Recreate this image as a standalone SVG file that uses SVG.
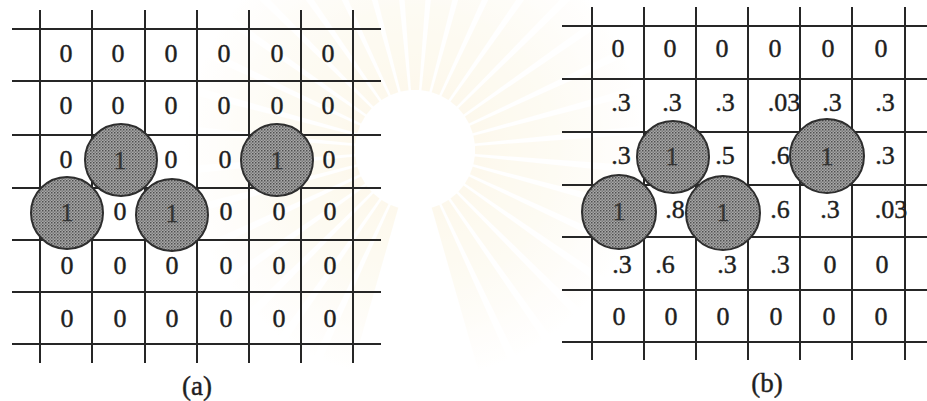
<svg xmlns="http://www.w3.org/2000/svg" xmlns:xlink="http://www.w3.org/1999/xlink" width="927" height="401" viewBox="0 0 927 401">
<style>
.grid{fill:none;stroke:#262626;stroke-width:2}
.cell{font-family:"Liberation Serif","Times New Roman",serif;font-size:26px;fill:#1e1e1e;stroke:#1e1e1e;stroke-width:0.4;text-anchor:middle}
.cap{font-family:"Liberation Serif","Times New Roman",serif;font-size:27px;fill:#1e1e1e;stroke:#1e1e1e;stroke-width:0.4;text-anchor:middle}
.disk{fill:url(#dots);stroke:#2e2e2e;stroke-width:2}
.one{font-family:"Liberation Serif","Times New Roman",serif;font-size:26px;fill:#333;stroke:#333;stroke-width:0.3;text-anchor:middle}
</style>
<defs>
<pattern id="dots" width="3" height="3" patternUnits="userSpaceOnUse">
<rect width="3" height="3" fill="#a8a8a8"/>
<rect width="1.5" height="1.5" fill="#505050"/>
<rect x="1.5" y="1.5" width="1.5" height="1.5" fill="#7a7a7a"/>
</pattern>
<radialGradient id="glow" cx="0" cy="0" r="230" gradientUnits="userSpaceOnUse">
<stop offset="0" stop-color="#fbf1d6"/>
<stop offset="0.6" stop-color="#fdf8ea"/>
<stop offset="1" stop-color="#ffffff"/>
</radialGradient>
<path id="ray" d="M60,-4 L230,-16 L230,16 L60,4 Z" fill="url(#glow)"/>
</defs>
<rect width="927" height="401" fill="#ffffff"/>
<g id="watermark" opacity="0.55">
<use xlink:href="#ray" transform="translate(415,150) rotate(0)"/>
<use xlink:href="#ray" transform="translate(415,150) rotate(10)"/>
<use xlink:href="#ray" transform="translate(415,150) rotate(20)"/>
<use xlink:href="#ray" transform="translate(415,150) rotate(30)"/>
<use xlink:href="#ray" transform="translate(415,150) rotate(40)"/>
<use xlink:href="#ray" transform="translate(415,150) rotate(50)"/>
<use xlink:href="#ray" transform="translate(415,150) rotate(60)"/>
<use xlink:href="#ray" transform="translate(415,150) rotate(70)"/>
<use xlink:href="#ray" transform="translate(415,150) rotate(110)"/>
<use xlink:href="#ray" transform="translate(415,150) rotate(120)"/>
<use xlink:href="#ray" transform="translate(415,150) rotate(130)"/>
<use xlink:href="#ray" transform="translate(415,150) rotate(140)"/>
<use xlink:href="#ray" transform="translate(415,150) rotate(150)"/>
<use xlink:href="#ray" transform="translate(415,150) rotate(160)"/>
<use xlink:href="#ray" transform="translate(415,150) rotate(170)"/>
<use xlink:href="#ray" transform="translate(415,150) rotate(180)"/>
<use xlink:href="#ray" transform="translate(415,150) rotate(190)"/>
<use xlink:href="#ray" transform="translate(415,150) rotate(200)"/>
<use xlink:href="#ray" transform="translate(415,150) rotate(210)"/>
<use xlink:href="#ray" transform="translate(415,150) rotate(220)"/>
<use xlink:href="#ray" transform="translate(415,150) rotate(230)"/>
<use xlink:href="#ray" transform="translate(415,150) rotate(240)"/>
<use xlink:href="#ray" transform="translate(415,150) rotate(250)"/>
<use xlink:href="#ray" transform="translate(415,150) rotate(260)"/>
<use xlink:href="#ray" transform="translate(415,150) rotate(270)"/>
<use xlink:href="#ray" transform="translate(415,150) rotate(280)"/>
<use xlink:href="#ray" transform="translate(415,150) rotate(290)"/>
<use xlink:href="#ray" transform="translate(415,150) rotate(300)"/>
<use xlink:href="#ray" transform="translate(415,150) rotate(310)"/>
<use xlink:href="#ray" transform="translate(415,150) rotate(320)"/>
<use xlink:href="#ray" transform="translate(415,150) rotate(330)"/>
<use xlink:href="#ray" transform="translate(415,150) rotate(340)"/>
<use xlink:href="#ray" transform="translate(415,150) rotate(350)"/>
</g>

<g id="grid-a">
<path class="grid" d="M40 10V363 M92 10V363 M145 10V363 M197 10V363 M249 10V363 M301 10V363 M353 10V363 M12 29H381 M12 81H381 M12 135H381 M12 188H381 M12 240H381 M12 292H381 M12 344H381"/>
<g id="values-a">
<text class="cell" x="66" y="62">0</text><text class="cell" x="118" y="62">0</text><text class="cell" x="171" y="62">0</text><text class="cell" x="224" y="62">0</text><text class="cell" x="277" y="62">0</text><text class="cell" x="328" y="62">0</text>
<text class="cell" x="66" y="114">0</text><text class="cell" x="118" y="114">0</text><text class="cell" x="171" y="114">0</text><text class="cell" x="224" y="114">0</text><text class="cell" x="277" y="114">0</text><text class="cell" x="328" y="114">0</text>
<text class="cell" x="66" y="168">0</text><text class="cell" x="171" y="168">0</text><text class="cell" x="225" y="168">0</text><text class="cell" x="329" y="168">0</text>
<text class="cell" x="120" y="220">0</text><text class="cell" x="226" y="220">0</text><text class="cell" x="279" y="220">0</text><text class="cell" x="330" y="220">0</text>
<text class="cell" x="67" y="274">0</text><text class="cell" x="120" y="274">0</text><text class="cell" x="172" y="274">0</text><text class="cell" x="226" y="274">0</text><text class="cell" x="279" y="274">0</text><text class="cell" x="330" y="274">0</text>
<text class="cell" x="67" y="327">0</text><text class="cell" x="120" y="327">0</text><text class="cell" x="172" y="327">0</text><text class="cell" x="226" y="327">0</text><text class="cell" x="279" y="327">0</text><text class="cell" x="330" y="327">0</text>
</g>
<g id="a-disk-1"><circle class="disk" cx="121" cy="160" r="36"/><text class="one" x="120" y="169">1</text></g>
<g id="a-disk-2"><circle class="disk" cx="277" cy="160" r="36"/><text class="one" x="277" y="169">1</text></g>
<g id="a-disk-3"><circle class="disk" cx="67" cy="213" r="36"/><text class="one" x="67" y="221">1</text></g>
<g id="a-disk-4"><circle class="disk" cx="172" cy="215" r="36"/><text class="one" x="172" y="222">1</text></g>
<text id="label-a" class="cap" x="197" y="395">(a)</text>
</g>

<g id="grid-b">
<path class="grid" d="M592 7V360 M644 7V360 M696 7V360 M748 7V360 M800 7V360 M852 7V360 M905 7V360 M562 26H927 M562 79H927 M562 132H927 M562 185H927 M562 237H927 M562 290H927 M562 342H927"/>
<g id="values-b">
<text class="cell" x="618" y="57">0</text><text class="cell" x="670" y="57">0</text><text class="cell" x="722" y="57">0</text><text class="cell" x="775" y="57">0</text><text class="cell" x="828" y="57">0</text><text class="cell" x="881" y="57">0</text>
<text class="cell" x="621" y="111">.3</text><text class="cell" x="672" y="111">.3</text><text class="cell" x="725" y="111">.3</text><text class="cell" x="784" y="111">.03</text><text class="cell" x="832" y="111">.3</text><text class="cell" x="885" y="111">.3</text>
<text class="cell" x="621" y="164">.3</text><text class="cell" x="725" y="164">.5</text><text class="cell" x="780" y="164">.6</text><text class="cell" x="885" y="164">.3</text>
<text class="cell" x="675" y="218">.8</text><text class="cell" x="780" y="218">.6</text><text class="cell" x="830" y="218">.3</text><text class="cell" x="891" y="218">.03</text>
<text class="cell" x="622" y="273">.3</text><text class="cell" x="665" y="273">.6</text><text class="cell" x="727" y="273">.3</text><text class="cell" x="780" y="273">.3</text><text class="cell" x="830" y="273">0</text><text class="cell" x="882" y="273">0</text>
<text class="cell" x="619" y="325">0</text><text class="cell" x="671" y="325">0</text><text class="cell" x="723" y="325">0</text><text class="cell" x="776" y="325">0</text><text class="cell" x="829" y="325">0</text><text class="cell" x="881" y="325">0</text>
</g>
<g id="b-disk-1"><circle class="disk" cx="673" cy="157" r="36"/><text class="one" x="672" y="165">1</text></g>
<g id="b-disk-2"><circle class="disk" cx="827" cy="156" r="37"/><text class="one" x="827" y="165">1</text></g>
<g id="b-disk-3"><circle class="disk" cx="619" cy="212" r="37"/><text class="one" x="619" y="220">1</text></g>
<g id="b-disk-4"><circle class="disk" cx="723" cy="213" r="37"/><text class="one" x="723" y="221">1</text></g>
<text id="label-b" class="cap" x="767" y="392">(b)</text>
</g>

<g id="connectors"/>
</svg>
